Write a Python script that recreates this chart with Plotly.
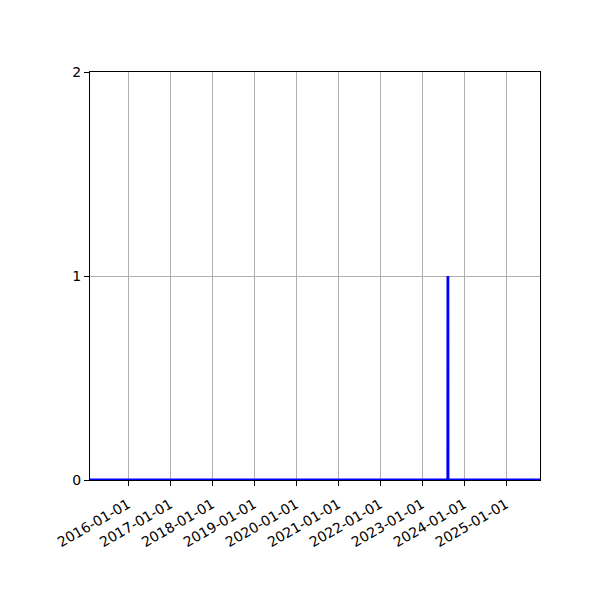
import plotly.graph_objects as go

# event counts per date (zero everywhere except one day)
dates = ["2015-02-04", "2023-08-13", "2023-08-14", "2023-08-15", "2025-10-23"]
counts = [0, 0, 1, 0, 0]

tick_dates = [f"{y}-01-01" for y in range(2016, 2026)]
y_ticks = [0, 1, 2]

fig = go.Figure(go.Scatter(x=dates, y=counts, mode="lines",
                           line=dict(color="#0000ff", width=2.8)))

axis_style = dict(showline=True, linecolor="black", linewidth=1, mirror=True,
                  ticks="outside", ticklen=5, tickcolor="black",
                  showgrid=True, gridcolor="#b0b0b0", gridwidth=1,
                  zeroline=False, tickfont=dict(family="DejaVu Sans", size=14, color="black"))

fig.update_xaxes(type="date", range=["2015-02-04", "2025-10-23"],
                 tickvals=tick_dates, ticktext=tick_dates, tickangle=-30,
                 ticklabelstandoff=5, **axis_style)
fig.update_yaxes(range=[0, 2], tickvals=y_ticks, **axis_style)

# page body adds 8px offset, so margins are shifted to compensate
fig.update_layout(width=600, height=600, plot_bgcolor="white", paper_bgcolor="white",
                  margin=dict(l=82, r=68, t=64, b=128), showlegend=False)

fig.write_html("out.html")
